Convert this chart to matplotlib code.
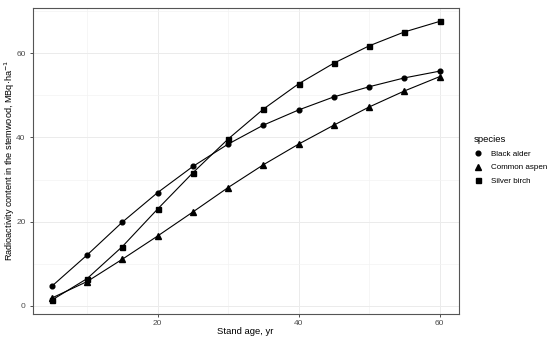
import numpy as np
import matplotlib
matplotlib.use('Agg')
import matplotlib.pyplot as plt
from matplotlib.lines import Line2D

plt.rcParams['font.family'] = ['Liberation Sans', 'DejaVu Sans']

age = [5, 10, 15, 20, 25, 30, 35, 40, 45, 50, 55, 60]
black_alder = [4.7, 12.1, 19.9, 26.9, 33.1, 38.4, 42.9, 46.5, 49.6, 52.0, 54.1, 55.7]
common_aspen = [1.9, 5.8, 11.1, 16.6, 22.3, 28.1, 33.5, 38.4, 42.9, 47.2, 51.0, 54.4]
silver_birch = [1.4, 6.5, 14.1, 23.0, 31.6, 39.6, 46.7, 52.7, 57.6, 61.7, 65.0, 67.5]
species = ['Black alder', 'Common aspen', 'Silver birch']

fig = plt.figure(figsize=(5.5, 3.42), dpi=100)
ax = fig.add_axes([32.5/550, 1 - 314/342, (459 - 32.5)/550, (314 - 7.5)/342])

ax.plot(age, black_alder, color='black', lw=0.8, marker='o', ms=3.4)
ax.plot(age, common_aspen, color='black', lw=0.8, marker='^', ms=4.0)
ax.plot(age, silver_birch, color='black', lw=0.8, marker='s', ms=3.6)

ax.set_xlim(2.25, 62.75)
ax.set_ylim(-1.9, 70.8)
ax.set_xticks([20, 40, 60])
ax.set_yticks([0, 20, 40, 60])
ax.set_xticks([10, 30, 50], minor=True)
ax.set_yticks([10, 30, 50, 70], minor=True)
ax.grid(which='major', color='#EBEBEB', lw=0.7)
ax.grid(which='minor', color='#F3F3F3', lw=0.5)
ax.set_axisbelow(True)
ax.tick_params(which='major', length=2.5, width=0.6, color='#333333',
               labelsize=6, labelcolor='#4D4D4D', pad=2)
ax.tick_params(axis='y', pad=2.5)
ax.tick_params(which='minor', length=0)
for s in ax.spines.values():
    s.set_color('#555555')
    s.set_linewidth(0.8)

ax.set_xlabel('Stand age, yr', fontsize=6.8)
ax.set_ylabel('Radioactivity content in the stemwood, MBq\u00b7ha$^{-1}$', fontsize=6.6)
ax.xaxis.set_label_coords((245.5 - 32.5)/426.5, -(332 - 314)/306.5)
ax.yaxis.set_label_coords(-(32.5 - 9.5)/426.5, 0.5)
ax.xaxis.label.set_va('center')
ax.yaxis.label.set_va('center')

handles = [Line2D([], [], color='black', lw=0, marker='o', ms=3.4),
           Line2D([], [], color='black', lw=0, marker='^', ms=4.0),
           Line2D([], [], color='black', lw=0, marker='s', ms=3.6)]
leg = fig.legend(handles, species, title='species', loc='center left',
                 bbox_to_anchor=(466/550, 1 - 160/342), frameon=False,
                 fontsize=5.8, title_fontsize=6.8, handlelength=1.2,
                 handletextpad=1.0, labelspacing=0.75)
leg._legend_box.align = 'left'

fig.savefig('out.png', dpi=100)
